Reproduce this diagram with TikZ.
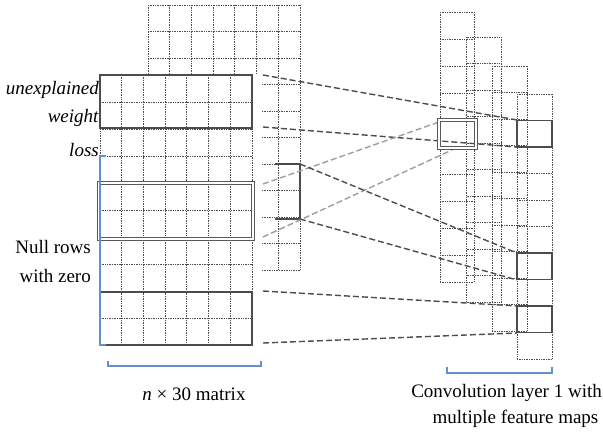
\documentclass[tikz,border=0pt]{standalone}
\usepackage{fontspec}
\setmainfont{Liberation Serif}
\definecolor{bracketblue}{RGB}{100,145,205}
\newcommand{\mygrid}[6]{%
  \foreach \i in {0,...,#3}{\draw[gridline] ({#1+\i*#5},#2) -- ({#1+\i*#5},{#2+#4*#6});}
  \foreach \j in {0,...,#4}{\draw[gridline] (#1,{#2+\j*#6}) -- ({#1+#3*#5},{#2+\j*#6});}
}
\begin{document}
\begin{tikzpicture}[x=1pt,y=-1pt,
  gridline/.style={dash pattern=on 0.8pt off 0.9pt, line width=0.75pt, color=black!70},
  solidbox/.style={draw=black!70, line width=1.3pt},
  dblbox/.style={draw=black!65, line width=1pt, double=white, double distance=1.2pt},
  darkdash/.style={dash pattern=on 6pt off 3pt, line width=1.4pt, color=black!70},
  lightdash/.style={dash pattern=on 6pt off 3pt, line width=1.4pt, color=black!38},
  bluebr/.style={line width=1.1pt, color=bracketblue},
  lbl/.style={font=\fontsize{19}{26}\selectfont, inner sep=0pt}]
\useasboundingbox (0,0) rectangle (603,432);
% back matrix
\mygrid{148}{5}{7}{10}{21.7}{26.5}
% cover
\fill[white] (99,75) rectangle (262,345);
% front matrix
\mygrid{100}{75}{7}{10}{21.7}{27}
\draw[solidbox] (100,75) rectangle (252,128);
\draw[dblbox] (99,183) rectangle (253,239);
\draw[solidbox] (100,292) rectangle (252,345);
% back solid bracket
\draw[solidbox] (275,164) -- (300,164) -- (300,219) -- (275,219);
% blue marks
\draw[bluebr] (106,156) -- (100,156) -- (100,345) -- (106,345);
\draw[bluebr] (108,361) -- (108,366) -- (261,366) -- (261,361);
\draw[bluebr] (447,367) -- (447,373) -- (552,373) -- (552,367);
% feature maps
\mygrid{440}{12}{1}{10}{34}{27}
\mygrid{466.5}{37}{1}{10}{35}{26.5}
\mygrid{492}{66}{1}{10}{35}{26.5}
\mygrid{517}{94}{1}{10}{35}{26.5}
% connector ends
\coordinate (c1s) at (263,75);  \coordinate (c1e) at (517,120);
\coordinate (c2s) at (263,127); \coordinate (c2e) at (517,147);
\coordinate (c3s) at (263,184); \coordinate (c3e) at (439,122);
\coordinate (c4s) at (263,237); \coordinate (c4e) at (452,150);
\coordinate (c5s) at (300,164); \coordinate (c5e) at (517,253);
\coordinate (c6s) at (300,219); \coordinate (c6e) at (517,280);
\coordinate (c7s) at (263,291); \coordinate (c7e) at (517,306);
\coordinate (c8s) at (263,343); \coordinate (c8e) at (517,333);
\draw[darkdash] (c1s) -- (c1e);
\draw[darkdash] (c2s) -- (c2e);
\draw[lightdash] (c3s) -- (c3e);
\draw[lightdash] (c4s) -- (c4e);
\draw[darkdash] (c5s) -- (c5e);
\draw[darkdash] (c6s) -- (c6e);
\draw[darkdash] (c7s) -- (c7e);
\draw[darkdash] (c8s) -- (c8e);
% map boxes
\draw[dblbox] (439,120) rectangle (476,148);
\draw[solidbox] (517,120.5) rectangle (552,147);
\draw[solidbox] (517,253) rectangle (552,279.5);
\draw[solidbox] (517,306) rectangle (552,332.5);
% labels
\node[lbl, anchor=base east] (t1) at (99,94) {\textit{unexplained}};
\node[lbl, anchor=base east] (t2) at (99,122) {\textit{weight}};
\node[lbl, anchor=base east] (t3) at (99,156) {\textit{loss}};
\node[lbl, anchor=base east] (t4) at (91,253) {Null rows};
\node[lbl, anchor=base east] (t5) at (91,282) {with zero};
\node[lbl, anchor=base] (t6) at (194,400) {\textit{n} × 30 matrix};
\node[lbl, anchor=base east] (t7) at (602,397) {Convolution layer 1 with};
\node[lbl, anchor=base] (t8) at (515.5,423) {multiple feature maps};
\end{tikzpicture}
\end{document}
